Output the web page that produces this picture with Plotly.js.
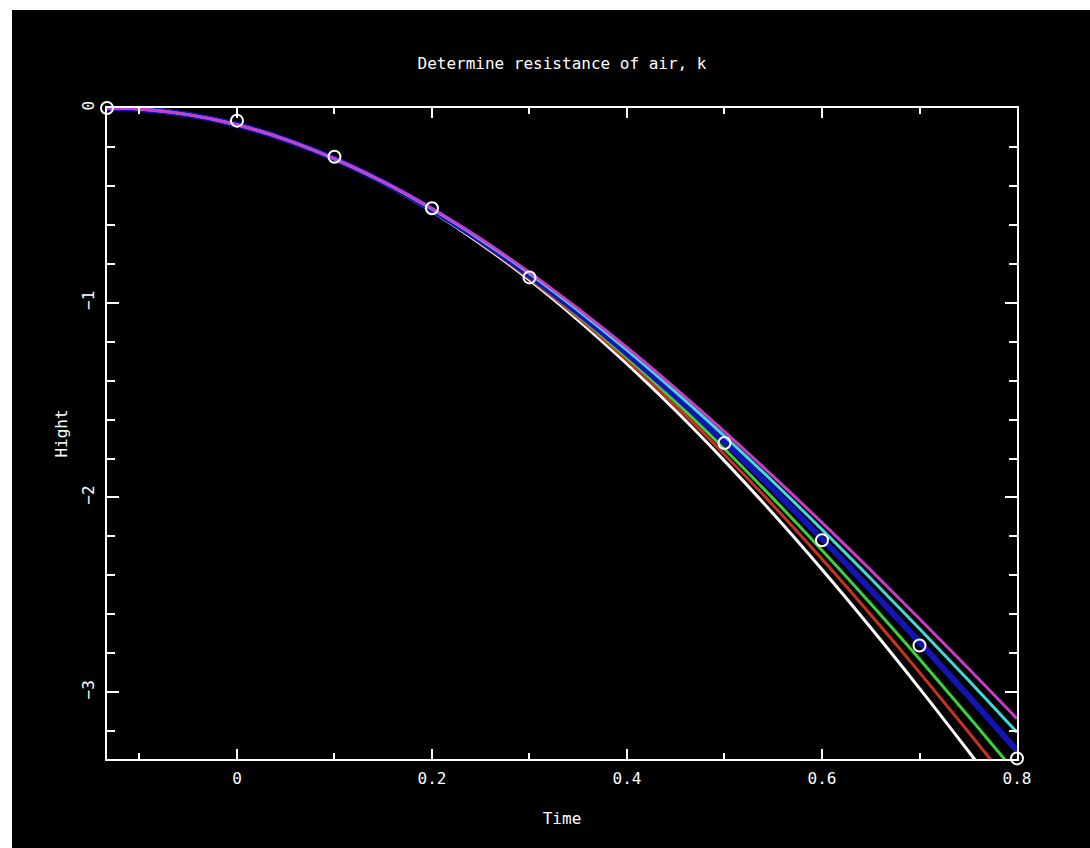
<!DOCTYPE html>
<html>
<head>
<meta charset="utf-8">
<script src="https://cdn.plot.ly/plotly-3.0.1.min.js"></script>
<style>
  html, body { margin: 0; padding: 0; background: #ffffff; width: 1090px; height: 848px; overflow: hidden; }
  #chart { position: absolute; left: 12px; top: 10px; width: 1078px; height: 838px; }
</style>
</head>
<body>
<div id="chart"></div>
<script>
// Time grid for the model curves
const timeGrid = [-0.1333, -0.1, -0.05, 0, 0.05, 0.1, 0.15, 0.2, 0.25, 0.3, 0.35, 0.4, 0.45, 0.5, 0.55, 0.6, 0.65, 0.7, 0.75, 0.8];

// Model curves for different air resistance k
const hightWhite   = [0, -0.005, -0.034, -0.087, -0.164, -0.264, -0.386, -0.532, -0.698, -0.884, -1.090, -1.314, -1.555, -1.812, -2.084, -2.370, -2.669, -2.980, -3.302, -3.633];
const hightRed     = [0, -0.005, -0.034, -0.087, -0.163, -0.263, -0.385, -0.528, -0.693, -0.876, -1.077, -1.296, -1.530, -1.779, -2.041, -2.316, -2.602, -2.898, -3.203, -3.516];
const hightGreen   = [0, -0.005, -0.034, -0.087, -0.163, -0.262, -0.383, -0.526, -0.688, -0.868, -1.067, -1.281, -1.509, -1.751, -2.006, -2.271, -2.546, -2.830, -3.122, -3.421];
const hightBlue    = [0, -0.005, -0.034, -0.086, -0.163, -0.261, -0.381, -0.522, -0.681, -0.859, -1.052, -1.260, -1.481, -1.714, -1.958, -2.212, -2.473, -2.742, -3.018, -3.299];
const hightCyan    = [0, -0.005, -0.034, -0.086, -0.162, -0.261, -0.380, -0.519, -0.676, -0.850, -1.040, -1.243, -1.459, -1.685, -1.920, -2.165, -2.416, -2.674, -2.937, -3.206];
const hightMagenta = [0, -0.005, -0.034, -0.086, -0.162, -0.260, -0.378, -0.516, -0.672, -0.844, -1.031, -1.230, -1.441, -1.662, -1.892, -2.129, -2.373, -2.623, -2.877, -3.136];

// Measured points (circles)
const measTime  = [-0.1333, 0, 0.1, 0.2, 0.3, 0.5, 0.6, 0.7, 0.8];
const measHight = [0, -0.065, -0.25, -0.515, -0.87, -1.72, -2.22, -2.76, -3.34];

const curveNames  = ['k1', 'k2', 'k3', 'k4', 'k5', 'k6'];
const curveSeries = [hightWhite, hightRed, hightGreen, hightBlue, hightCyan, hightMagenta];
const curveColors = ['#ffffff', '#c8321e', '#3cd23c', '#1414b4', '#3cdcdc', '#c83cc8'];
const curveWidths = [3, 3, 3, 6, 3, 3];

const FONT = '"DejaVu Sans Mono", "Liberation Mono", monospace';

const traces = curveSeries.map((ys, i) => ({
  type: 'scatter',
  mode: 'lines',
  name: curveNames[i],
  x: timeGrid,
  y: ys,
  line: { color: curveColors[i], width: curveWidths[i], shape: 'spline' },
  showlegend: false,
  hoverinfo: 'skip'
}));

traces.push({
  type: 'scatter',
  mode: 'markers',
  name: 'measured',
  x: measTime,
  y: measHight,
  marker: { symbol: 'circle-open', size: 12, color: '#ffffff', line: { width: 2, color: '#ffffff' } },
  cliponaxis: false,
  showlegend: false
});

const axisCommon = {
  showgrid: false,
  zeroline: false,
  showline: true,
  linecolor: '#ffffff',
  linewidth: 2,
  mirror: 'allticks',
  ticks: 'inside',
  tickcolor: '#ffffff',
  tickwidth: 2,
  tickfont: { family: FONT, size: 16, color: '#ffffff' }
};

const layout = {
  width: 1078,
  height: 838,
  paper_bgcolor: '#000000',
  plot_bgcolor: '#000000',
  margin: { l: 95, r: 73, t: 98, b: 89 },
  showlegend: false,
  title: {
    text: 'Determine resistance of air, k',
    font: { family: FONT, size: 16, color: '#ffffff' },
    x: 0.5, xref: 'paper',
    y: 1 - 53 / 838, yref: 'container', yanchor: 'middle'
  },
  xaxis: Object.assign({}, axisCommon, {
    range: [-0.1333, 0.8],
    tick0: 0, dtick: 0.2,
    ticklen: 10,
    ticklabelstandoff: 4,
    minor: { dtick: 0.1, ticks: 'inside', ticklen: 6, tickcolor: '#ffffff', tickwidth: 2 },
    title: { text: 'Time', font: { family: FONT, size: 16, color: '#ffffff' }, standoff: 26 }
  }),
  yaxis: Object.assign({}, axisCommon, {
    range: [-3.343, 0],
    tick0: 0, dtick: 1,
    ticklen: 12,
    tickangle: -90,
    ticklabelstandoff: 5,
    minor: { dtick: 0.2, ticks: 'inside', ticklen: 8, tickcolor: '#ffffff', tickwidth: 2 },
    title: { text: 'Hight', font: { family: FONT, size: 16, color: '#ffffff' }, standoff: 7 }
  })
};

Plotly.newPlot('chart', traces, layout, { displayModeBar: false, staticPlot: true });
</script>
</body>
</html>
